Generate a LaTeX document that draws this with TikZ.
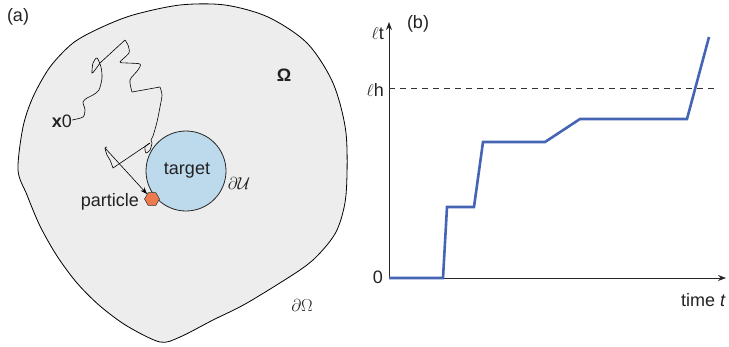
\documentclass[tikz,border=0pt]{standalone}
\usepackage{fontspec}
\setmainfont{Liberation Sans}
\usepackage{amsmath}
\usetikzlibrary{arrows.meta,shapes.geometric}
\definecolor{blobfill}{HTML}{EDEDED}
\definecolor{targetfill}{HTML}{BDDAEC}
\definecolor{partfill}{HTML}{EE7A4F}
\definecolor{curveblue}{HTML}{4464B4}
\definecolor{txt}{HTML}{222222}
\tikzset{
  lbl/.style={font=\fontsize{18}{21}\selectfont, text=txt, inner sep=0pt},
  mathlbl/.style={font=\fontsize{18}{21}\selectfont, text=txt, inner sep=0pt},
  axis/.style={draw=black!85, line width=0.8pt, -{Stealth[length=8pt,width=6pt]}},
}
\begin{document}
\begin{tikzpicture}[x=1pt,y=-1pt]
\useasboundingbox (0,0) rectangle (729,346);
% panel (a)
\draw[line width=0.8pt, fill=blobfill] plot[smooth cycle, tension=0.5] coordinates {
 (18,170) (23,127) (33,97) (50,67) (73,43) (100,28) (133,15) (180,5) (225,5)
 (268,17) (307,43) (333,83) (346,133) (346,195) (337,230) (320,253) (300,270)
 (247,303) (213,320) (180,337) (160,342) (127,326) (100,306) (77,283) (57,256)
 (40,226) (27,195)};
\node[circle, draw=black!85, line width=0.8pt, fill=targetfill, minimum size=80pt, inner sep=0pt] (target) at (186,171) {};
\node[lbl] (tlabel) at (187,171) {target};
\node[regular polygon, regular polygon sides=6, draw=black!80, line width=0.5pt, fill=partfill, minimum size=15pt, inner sep=0pt] (part) at (152,199) {};
\node[lbl, anchor=east] (plabel) at (139,202) {particle};
\node[lbl, anchor=east] (x0) at (72,121) {\textbf{x}0};
\node[mathlbl] (Om) at (284,75) {\textbf{Ω}};
\node[mathlbl] (dU) at (239,183) {\rmfamily$\partial\mathcal{U}$};
\node[mathlbl] (dOm) at (302,305) {\rmfamily$\partial\Omega$};
\node[lbl] (pa) at (18,17) {(a)};
\coordinate (w0) at (72,120);
\coordinate (w1) at (105,148);
\draw[line width=0.6pt, black] plot[smooth, tension=0.45] coordinates {
 (72,120) (83,117) (85,110) (83,102) (87,98) (93,95) (99,90) (102,78) (101,67)
 (97,58) (93,63) (92,73) (95,70) (100,63)};
\draw[line width=0.6pt, black] (100,63) -- (125,40);
\draw[line width=0.6pt, black] plot[smooth, tension=0.45] coordinates {
 (125,40) (128,45) (129,53) (120,62) (127,63) (140,64) (138,70) (130,80) (132,92)};
\draw[line width=0.6pt, black] (132,92) -- (160,87);
\draw[line width=0.6pt, black] plot[smooth, tension=0.45] coordinates {
 (160,87) (162,95) (160,107) (157,122) (153,136) (151,140) (152,143) (150,150) (146,153) (145,147) (150,143)};
\draw[line width=0.6pt, black] (150,143) -- (113,168);
\draw[line width=0.6pt, black] plot[smooth, tension=0.45] coordinates {
 (113,168) (110,160) (107,155) (105,148) (107,147)};
\draw[line width=0.6pt, black, -{Stealth[length=7pt,width=5pt]}] (w1) -- (part.north west);
% panel (b)
\coordinate (O) at (389,278);
\coordinate (ytop) at (389,22);
\coordinate (xend) at (726,278);
\draw[axis] (O) -- (ytop);
\draw[axis] (O) -- (xend);
\draw[dashed, line width=0.7pt, black!80, dash pattern=on 6pt off 5pt] (389,88) -- (717,88);
\draw[curveblue, line width=2.6pt, line join=miter] (389,278) -- (443,278) -- (447,207) -- (474,207) -- (483,142) -- (545,142) -- (580,119) -- (687,119) -- (709,37);
\node[lbl, anchor=east] (zero) at (383,277) {0};
\node[lbl, anchor=east] (lt) at (384,34) {{\rmfamily$\ell$}t};
\node[lbl, anchor=east] (lh) at (384,90) {{\rmfamily$\ell$}h};
\node[lbl] (pb) at (418,24) {(b)};
\node[lbl, anchor=east] (time) at (726,300) {time \textit{t}};
\end{tikzpicture}
\end{document}
